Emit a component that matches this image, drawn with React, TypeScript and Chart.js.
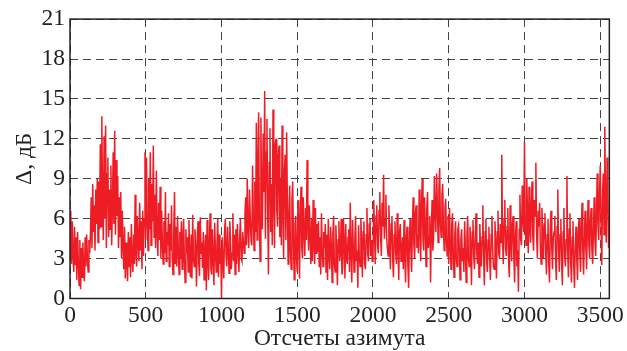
import React, { useEffect, useRef } from "react";
import { Chart, registerables } from "chart.js";

Chart.register(...registerables);

// Sample spacing along the azimuth axis (samples)
const X_STEP = 5;
const X_MAX = 3560;
const X_TICKS = [0, 500, 1000, 1500, 2000, 2500, 3000, 3500];
const Y_TICKS = [0, 3, 6, 9, 12, 15, 18, 21];

// Δ, dB every 5 azimuth samples (0 … 3560), one row per 100 samples
const values = [
  3.5, 6.6, 2.6, 5.8, 3.2, 2.0, 5.4, 2.5, 4.6, 1.4, 5.0, 2.8, 1.0, 4.4, 0.7, 3.8, 1.6, 4.2, 2.2, 1.3,
  4.6, 2.4, 4.8, 3.0, 2.0, 4.4, 3.4, 4.8, 7.6, 3.8, 8.6, 5.0, 7.0, 3.6, 8.2, 5.6, 9.0, 4.2, 8.8, 5.2,
  11.6, 5.4, 13.7, 7.0, 4.4, 12.2, 6.0, 13.0, 3.8, 9.4, 10.6, 4.6, 8.2, 5.2, 10.0, 4.0, 6.8, 11.0, 5.6, 12.6,
  4.8, 10.4, 6.2, 9.2, 3.8, 7.6, 4.6, 8.0, 3.0, 6.6, 4.0, 2.2, 5.4, 1.5, 4.2, 2.8, 1.3, 5.0, 2.4, 4.6,
  1.6, 5.6, 3.0, 2.0, 4.8, 2.6, 7.8, 3.4, 2.4, 6.2, 4.2, 2.8, 7.2, 3.6, 5.8, 2.2, 6.6, 3.2, 6.0, 11.0,
  4.4, 10.6, 6.0, 3.6, 9.0, 5.2, 11.0, 4.0, 8.6, 5.8, 11.5, 4.6, 7.8, 3.8, 9.6, 5.0, 3.2, 7.2, 4.4, 8.4,
  3.0, 6.6, 4.2, 2.6, 5.8, 3.4, 8.0, 2.8, 5.0, 4.0, 6.4, 2.4, 5.6, 3.6, 7.0, 3.0, 1.8, 5.2, 8.0, 2.6,
  5.4, 2.4, 6.2, 3.6, 1.8, 5.0, 3.0, 5.8, 2.2, 4.4, 6.0, 2.8, 1.2, 5.2, 3.4, 4.6, 2.0, 5.9, 3.2, 1.6,
  4.8, 1.5, 6.3, 3.0, 2.4, 5.2, 3.8, 0.9, 4.6, 5.8, 2.6, 1.7, 6.1, 3.4, 4.2, 2.3, 5.0, 1.4, 3.6, 4.8,
  0.6, 5.9, 2.8, 1.4, 4.4, 6.4, 2.2, 1.8, 5.2, 3.0, 1.0, 5.7, 3.6, 2.0, 4.0, 6.0, 1.6, 4.8, 2.6, 3.8,
  0.0, 4.6, 2.8, 1.5, 5.0, 6.0, 3.2, 2.4, 5.4, 3.8, 1.9, 5.8, 4.0, 2.2, 3.4, 6.4, 2.8, 4.8, 1.8, 5.2,
  2.6, 5.6, 3.6, 2.0, 4.6, 6.0, 3.0, 2.8, 5.0, 4.2, 3.4, 6.4, 7.6, 4.0, 9.0, 5.2, 3.8, 8.2, 6.0, 4.4,
  4.0, 10.0, 6.2, 3.6, 8.8, 5.0, 13.2, 4.4, 9.6, 14.0, 6.0, 2.8, 13.6, 7.4, 5.2, 12.4, 8.0, 15.6, 4.5, 11.0,
  13.5, 6.4, 1.8, 10.2, 12.8, 5.0, 8.6, 4.0, 14.2, 7.2, 3.8, 11.6, 12.0, 6.6, 5.4, 10.8, 11.5, 4.6, 9.0, 4.0,
  13.0, 6.8, 3.0, 9.6, 10.8, 4.4, 12.5, 7.0, 2.6, 6.2, 8.5, 3.6, 2.2, 7.4, 8.8, 4.2, 1.4, 5.6, 6.2, 3.0,
  2.0, 7.4, 4.6, 1.5, 6.2, 8.4, 3.8, 3.0, 7.6, 5.0, 3.2, 6.8, 4.4, 10.4, 5.4, 3.6, 7.0, 4.8, 2.6, 6.0,
  2.8, 7.4, 4.0, 2.6, 6.8, 3.4, 5.6, 3.5, 5.8, 2.4, 4.6, 1.8, 6.4, 3.6, 2.4, 5.0, 3.8, 5.6, 2.0, 4.8,
  1.4, 6.0, 3.2, 2.2, 5.4, 4.0, 1.2, 4.8, 6.2, 2.6, 2.0, 5.5, 3.6, 1.0, 4.4, 5.8, 2.8, 3.4, 6.0, 1.8,
  2.3, 6.0, 4.2, 1.5, 5.6, 3.0, 2.6, 4.6, 5.2, 2.0, 7.2, 3.4, 1.2, 5.9, 3.8, 2.0, 4.4, 6.2, 2.8, 3.6,
  0.8, 5.5, 3.0, 2.4, 6.0, 4.2, 1.6, 5.0, 5.8, 2.6, 2.2, 4.8, 6.8, 3.4, 2.8, 5.6, 6.0, 3.2, 4.4, 2.8,
  3.0, 7.4, 5.0, 2.6, 6.2, 7.0, 4.0, 3.4, 6.6, 8.0, 4.8, 3.2, 7.2, 5.4, 9.3, 4.5, 6.0, 7.8, 4.6, 3.8,
  3.2, 7.0, 4.4, 2.2, 5.6, 6.2, 3.0, 1.6, 4.8, 5.8, 3.4, 2.6, 6.4, 4.0, 1.4, 5.0, 5.6, 2.8, 3.6, 4.6,
  2.2, 5.9, 3.2, 1.2, 4.6, 5.4, 2.6, 0.8, 4.2, 6.0, 3.6, 2.0, 5.2, 7.6, 4.0, 3.0, 6.4, 7.0, 3.8, 4.8,
  3.4, 8.2, 5.2, 2.8, 7.0, 9.0, 4.4, 3.6, 7.6, 5.6, 2.4, 6.8, 8.0, 3.8, 4.6, 6.2, 1.2, 5.0, 7.4, 3.6,
  4.6, 9.2, 6.4, 5.0, 9.4, 7.0, 4.2, 8.2, 9.8, 5.6, 4.6, 7.8, 8.6, 5.2, 3.6, 6.8, 7.5, 4.4, 3.2, 6.2,
  2.6, 6.8, 4.2, 2.2, 5.6, 6.4, 3.4, 1.6, 4.8, 5.8, 3.0, 2.4, 5.2, 5.5, 3.6, 1.4, 4.4, 5.2, 2.8, 3.8,
  2.0, 5.8, 3.6, 1.2, 4.6, 6.2, 3.0, 2.4, 5.4, 4.0, 1.0, 5.0, 5.9, 3.2, 2.2, 4.8, 6.4, 3.4, 2.6, 4.2,
  1.6, 5.6, 3.8, 2.4, 4.6, 7.0, 3.2, 1.0, 5.0, 6.0, 2.8, 2.0, 4.4, 5.4, 3.0, 1.4, 4.8, 6.2, 3.6, 2.4,
  2.2, 5.8, 4.0, 1.5, 5.0, 6.6, 3.4, 3.0, 5.6, 4.2, 10.8, 4.4, 2.6, 6.0, 7.4, 3.8, 3.2, 5.4, 6.8, 2.8,
  1.6, 7.0, 4.2, 2.8, 5.6, 6.2, 3.0, 1.2, 4.6, 5.8, 2.4, 3.6, 0.5, 5.2, 7.8, 4.4, 4.0, 8.5, 6.0, 5.0,
  11.8, 5.6, 4.0, 9.0, 6.4, 3.4, 8.4, 5.2, 4.2, 7.0, 8.8, 4.6, 3.6, 7.4, 6.2, 10.2, 4.8, 3.0, 6.6, 5.4,
  7.2, 3.8, 2.6, 6.8, 5.0, 3.0, 5.6, 6.4, 3.4, 1.8, 4.8, 6.0, 2.6, 1.2, 5.2, 6.6, 3.8, 2.2, 4.6, 5.0,
  6.2, 3.0, 1.4, 5.4, 8.2, 3.6, 2.0, 4.8, 6.0, 2.8, 1.0, 5.0, 6.8, 3.2, 2.4, 4.4, 9.2, 3.6, 1.6, 5.2,
  6.4, 2.6, 1.2, 4.6, 5.8, 2.4, 0.8, 4.0, 5.4, 3.0, 1.4, 4.8, 6.0, 3.4, 2.0, 5.2, 7.2, 3.6, 1.8, 4.4,
  6.6, 3.8, 2.2, 5.4, 7.4, 4.0, 3.0, 5.8, 6.8, 3.6, 2.6, 5.0, 7.6, 4.4, 3.2, 6.2, 9.4, 5.6, 4.4, 7.8,
  10.0, 5.6, 2.5, 7.8, 9.4, 4.8, 12.9, 6.4, 4.2, 10.6, 8.0, 3.8, 6.0,
];

const X_TITLE = "Отсчеты азимута";
const Y_TITLE = "Δ, дБ";

const FONT = "'Liberation Serif', 'Times New Roman', serif";
const FONT_SIZE = 23.5;

const framePlugin = {
  id: "frame",
  afterDatasetsDraw(chart: any) {
    const { ctx, chartArea } = chart;
    ctx.save();
    ctx.strokeStyle = "#222";
    ctx.lineWidth = 1.5;
    ctx.strokeRect(
      chartArea.left,
      chartArea.top,
      chartArea.right - chartArea.left,
      chartArea.bottom - chartArea.top
    );
    ctx.restore();
  },
};

export default function App() {
  const ref = useRef<HTMLCanvasElement | null>(null);

  useEffect(() => {
    document.body.style.margin = "0";
    const canvas = ref.current;
    if (!canvas) return;
    const points = values.map((v, i) => ({ x: i * X_STEP, y: v }));
    const chart = new Chart(canvas, {
      type: "line",
      data: {
        datasets: [
          {
            data: points,
            borderColor: "#EE1C25",
            borderWidth: 1.5,
            pointRadius: 0,
            tension: 0,
            fill: false,
          },
        ],
      },
      plugins: [framePlugin],
      options: {
        responsive: false,
        animation: false,
        events: [],
        layout: { padding: { top: 19, right: 15, left: 0, bottom: 0 } },
        plugins: {
          legend: { display: false },
          tooltip: { enabled: false },
        },
        scales: {
          x: {
            type: "linear",
            min: 0,
            max: X_MAX,
            afterBuildTicks: (scale: any) => {
              scale.ticks = X_TICKS.map((v) => ({ value: v }));
            },
            afterFit: (scale: any) => {
              scale.height = 52.5;
            },
            ticks: {
              color: "#222",
              font: { family: FONT, size: FONT_SIZE },
              padding: 3,
              maxRotation: 0,
              autoSkip: false,
              callback: (v: any) => String(v),
            },
            grid: {
              color: "#444",
              lineWidth: 1,
              drawTicks: false,
            },
            border: { display: false, dash: [8, 5] },
            title: {
              display: true,
              text: X_TITLE,
              color: "#222",
              font: { family: FONT, size: FONT_SIZE, lineHeight: 1 },
              padding: { top: 0, bottom: 0 },
            },
          },
          y: {
            type: "linear",
            min: 0,
            max: 21,
            afterBuildTicks: (scale: any) => {
              scale.ticks = Y_TICKS.map((v) => ({ value: v }));
            },
            afterFit: (scale: any) => {
              scale.width = 70;
            },
            ticks: {
              color: "#222",
              font: { family: FONT, size: FONT_SIZE },
              padding: 5,
              autoSkip: false,
              callback: (v: any) => String(v),
            },
            grid: {
              color: "#444",
              lineWidth: 1,
              drawTicks: false,
            },
            border: { display: false, dash: [8, 5] },
            title: {
              display: true,
              text: Y_TITLE,
              color: "#222",
              font: { family: FONT, size: FONT_SIZE, lineHeight: 1 },
              padding: { top: 13, bottom: 0 },
            },
          },
        },
      },
    });
    return () => chart.destroy();
  }, []);

  return (
    <div style={{ width: 627, height: 351 }}>
      <canvas ref={ref} width={627} height={351} style={{ display: "block" }} />
    </div>
  );
}
